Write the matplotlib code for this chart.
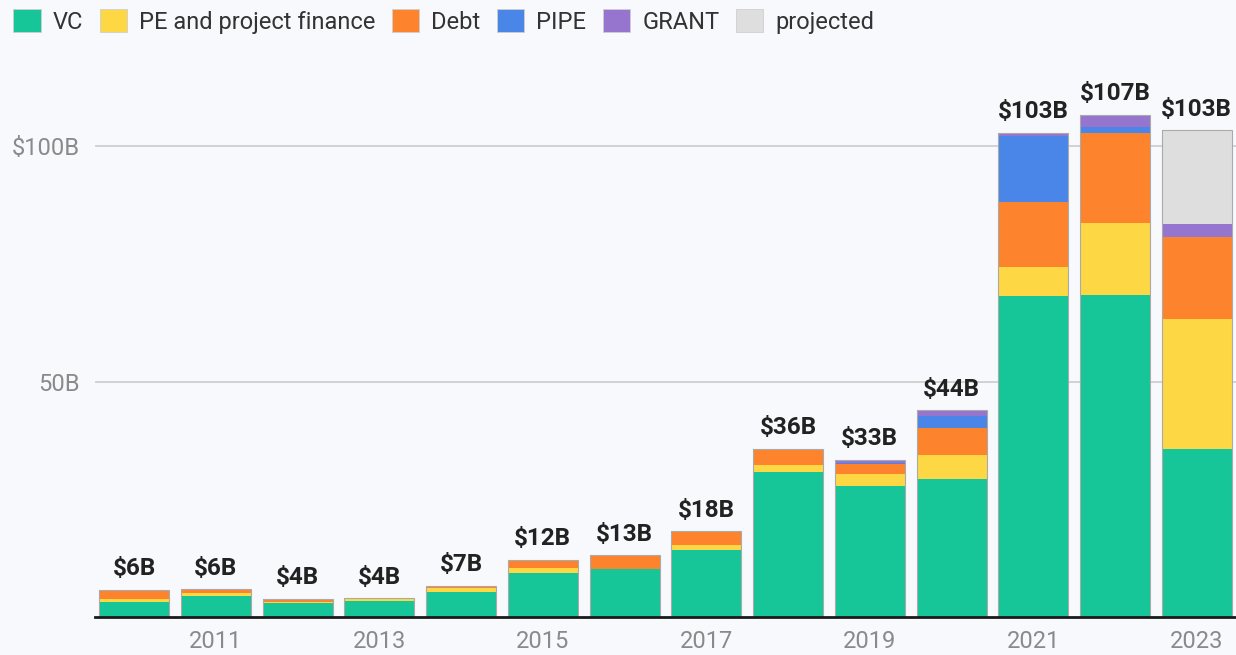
import numpy as np
import matplotlib.pyplot as plt
from matplotlib.patches import Patch

# values in $B
years = [2010, 2011, 2012, 2013, 2014, 2015, 2016, 2017, 2018, 2019, 2020, 2021, 2022, 2023]
vc = [3.2, 4.5, 3.0, 3.4, 5.4, 9.3, 10.1, 14.3, 30.8, 27.9, 29.4, 68.2, 68.5, 35.7]
pe = [0.6, 0.5, 0.1, 0.35, 0.85, 1.1, 0.2, 1.1, 1.4, 2.4, 5.0, 6.1, 15.3, 27.7]
debt = [1.9, 0.85, 0.7, 0.2, 0.35, 1.7, 2.8, 2.8, 3.2, 2.3, 5.8, 13.8, 19.1, 17.3]
pipe = [0, 0, 0, 0, 0, 0, 0, 0, 0, 0.1, 2.6, 14.0, 1.2, 0]
grant = [0, 0, 0, 0, 0, 0, 0, 0, 0.3, 0.7, 1.1, 0.7, 2.5, 2.8]
projected = [0, 0, 0, 0, 0, 0, 0, 0, 0, 0, 0, 0, 0, 19.9]
totals = ["$6B", "$6B", "$4B", "$4B", "$7B", "$12B", "$13B", "$18B",
          "$36B", "$33B", "$44B", "$103B", "$107B", "$103B"]
xticks = [2011, 2013, 2015, 2017, 2019, 2021, 2023]

series = [
    ("VC", vc, "#16c698"),
    ("PE and project finance", pe, "#fdd744"),
    ("Debt", debt, "#fd832d"),
    ("PIPE", pipe, "#4a86e8"),
    ("GRANT", grant, "#9575cd"),
    ("projected", projected, "#dedede"),
]

plt.rcParams['font.family'] = ['Roboto', 'DejaVu Sans']
bg = "#f8f9fd"

fig = plt.figure(figsize=(12.36, 6.55), dpi=100, facecolor=bg)
ax = fig.add_axes([0.0769, 0.058, 0.9231, 0.866], facecolor=bg)

x = np.array(years)
w = 0.856
bottom = np.zeros(len(years))
for name, vals, col in series:
    vals = np.array(vals, dtype=float)
    ax.bar(x, vals, w, bottom=bottom, color=col, linewidth=0, zorder=3)
    bottom += vals

# thin gray outline round each stack
ax.bar(x, bottom, w, fill=False, edgecolor="#aaaaaa", linewidth=0.8, zorder=4)

for xi, top, lab in zip(x, bottom, totals):
    ax.annotate(lab, (xi, top), xytext=(0, 7), textcoords="offset points",
                ha="center", va="bottom", fontsize=17.5, fontweight="bold",
                color="#222222", zorder=5)

ax.set_xlim(2010 - 0.477, 2023 + 0.48)
ax.set_ylim(0, 120.5)
ax.set_yticks([50, 100])
ax.set_yticklabels(["50B", "$100B"])
ax.set_xticks(xticks)
ax.tick_params(axis="both", length=0, labelsize=17, labelcolor="#8a8a8a")
ax.tick_params(axis="y", pad=11)
ax.tick_params(axis="x", pad=9)
ax.grid(axis="y", color="#d2d2d2", linewidth=1.4, zorder=0)

for s in ["top", "right", "left"]:
    ax.spines[s].set_visible(False)
ax.spines["bottom"].set_color("#1a1a1a")
ax.spines["bottom"].set_linewidth(2)
ax.spines["bottom"].set_zorder(6)

handles = [Patch(facecolor=col, edgecolor="#cfcfcf", linewidth=0.6, label=name)
           for name, vals, col in series]
fig.legend(handles=handles, loc="upper left", bbox_to_anchor=(0.0032, 1.001),
           borderaxespad=0, ncol=6, frameon=False, fontsize=17,
           handlelength=1.15, handleheight=1.15, handletextpad=0.5,
           columnspacing=0.72, labelcolor="#333333")

fig.savefig("out.png", dpi=100, facecolor=bg)
